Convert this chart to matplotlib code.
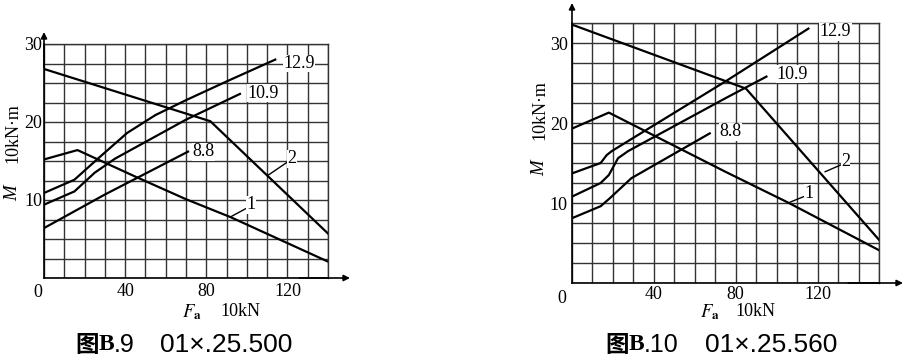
import matplotlib
matplotlib.use('Agg')
import numpy as np
import matplotlib.pyplot as plt

plt.rcParams['font.family'] = ['Liberation Serif', 'DejaVu Serif']
plt.rcParams['mathtext.fontset'] = 'stix'

W, H = 906, 361  # output size in pixels

# ---- Figure B.9 : 01x.25.500 ----
b9_x_2 = [0, 82, 140]
b9_y_2 = [26.8, 20.1, 5.7]
b9_x_1 = [0, 16.5, 45, 70, 92, 140]
b9_y_1 = [15.2, 16.4, 13.0, 10.1, 7.8, 2.1]
b9_x_129 = [0, 15, 27, 41, 55, 70, 90, 114]
b9_y_129 = [10.9, 12.6, 15.4, 18.6, 20.9, 22.8, 25.2, 28.0]
b9_x_109 = [0, 15, 25, 35, 70, 96.6]
b9_y_109 = [9.4, 11.1, 13.5, 15.3, 20.3, 23.6]
b9_x_88 = [0, 30, 71]
b9_y_88 = [6.4, 10.7, 16.2]

# ---- Figure B.10 : 01x.25.560 ----
b10_x_2 = [0, 85, 150]
b10_y_2 = [32.3, 24.3, 5.4]
b10_x_1 = [0, 18, 75, 106, 150]
b10_y_1 = [19.3, 21.3, 13.9, 10.0, 4.1]
b10_x_129 = [0, 14, 17, 19.5, 75, 115.5]
b10_y_129 = [13.7, 15.0, 16.0, 16.5, 25.2, 31.8]
b10_x_109 = [0, 14, 18, 22.5, 27.5, 75, 95]
b10_y_109 = [10.8, 12.5, 13.5, 15.6, 16.5, 23.1, 25.8]
b10_x_88 = [0, 14, 18.5, 29, 67.3]
b10_y_88 = [8.1, 9.6, 10.6, 13.1, 18.7]

x_tick_labels = [40, 80, 120]
y_tick_labels = [10, 20, 30]

GRID = '#333333'
LABEL_BOX = dict(facecolor='white', edgecolor='none', pad=0.3)
FS = 13


def px(x, y):
    """pixel position -> figure fraction"""
    return x / W, 1 - y / H


def setup_axes(ax, xmax, ymax, ext_x, ext_y, ypad, xpad, zero_off):
    ax.set_xlim(0, xmax)
    ax.set_ylim(0, ymax)
    ax.set_xticks(np.arange(0, xmax + 1, 10), minor=True)
    ax.set_yticks(np.arange(0, ymax + 0.1, 2.5), minor=True)
    ax.set_xticks(x_tick_labels)
    ax.set_yticks(y_tick_labels)
    ax.set_axisbelow(True)
    ax.grid(which='both', color=GRID, lw=1.0)
    ax.tick_params(which='both', length=0, labelsize=FS)
    ax.tick_params(axis='y', pad=ypad)
    ax.tick_params(axis='x', pad=xpad)
    for s in ax.spines.values():
        s.set_color(GRID)
        s.set_linewidth(1.0)
    for s in ('left', 'bottom'):
        ax.spines[s].set_color('black')
        ax.spines[s].set_linewidth(1.2)
    # axis arrows
    arrow = dict(arrowstyle='-|>', color='black', lw=1.2, mutation_scale=9,
                 shrinkA=0, shrinkB=0)
    ax.annotate('', xy=(0, 1 + ext_y), xytext=(0, 0.9), xycoords='axes fraction',
                arrowprops=arrow, annotation_clip=False)
    ax.annotate('', xy=(1 + ext_x, 0), xytext=(0.9, 0), xycoords='axes fraction',
                arrowprops=arrow, annotation_clip=False)
    # the "0" at the corner
    ax.annotate('0', xy=(0, 0), xytext=zero_off, textcoords='offset points',
                ha='right', va='top', fontsize=FS, annotation_clip=False)


def leader(ax, text, xy, xytext):
    ax.annotate(text, xy=xy, xytext=xytext, fontsize=FS, ha='left', va='center',
                bbox=LABEL_BOX,
                arrowprops=dict(arrowstyle='-', color='black', lw=1.0,
                                shrinkA=0, shrinkB=0, relpos=(0, 0.3)))


fig = plt.figure(figsize=(W / 100, H / 100), dpi=100)

# ---------------- left chart ----------------
ax1 = fig.add_axes([44 / W, 1 - 278 / H, 284 / W, 234 / H])
setup_axes(ax1, 140, 30, 22 / 284, 12 / 234, 1.5, 3.5, (-1.5, -4))
for xs, ys in [(b9_x_2, b9_y_2), (b9_x_1, b9_y_1), (b9_x_129, b9_y_129),
               (b9_x_109, b9_y_109), (b9_x_88, b9_y_88)]:
    ax1.plot(xs, ys, color='black', lw=1.6, solid_joinstyle='round')
ax1.text(125.8, 27.5, '12.9', fontsize=FS, ha='center', va='center', bbox=LABEL_BOX)
ax1.text(108.1, 23.7, '10.9', fontsize=FS, ha='center', va='center', bbox=LABEL_BOX)
ax1.text(78.5, 16.2, '8.8', fontsize=FS, ha='center', va='center', bbox=LABEL_BOX)
leader(ax1, '2', (110.6, 13.2), (120, 15.3))
leader(ax1, '1', (91.7, 7.8), (100, 9.4))

# ---------------- right chart ----------------
ax2 = fig.add_axes([572 / W, 1 - 283 / H, 307 / W, 260 / H])
setup_axes(ax2, 150, 32.5, 24 / 307, 20 / 260, 3, 2.5, (-4, -5))
for xs, ys in [(b10_x_2, b10_y_2), (b10_x_1, b10_y_1), (b10_x_129, b10_y_129),
               (b10_x_109, b10_y_109), (b10_x_88, b10_y_88)]:
    ax2.plot(xs, ys, color='black', lw=1.6, solid_joinstyle='round')
ax2.text(128.8, 31.4, '12.9', fontsize=FS, ha='center', va='center', bbox=LABEL_BOX)
ax2.text(107.7, 26.1, '10.9', fontsize=FS, ha='center', va='center', bbox=LABEL_BOX)
ax2.text(77.6, 18.9, '8.8', fontsize=FS, ha='center', va='center', bbox=LABEL_BOX)
leader(ax2, '2', (123.6, 13.9), (131.5, 15.2))
leader(ax2, '1', (106.5, 10.1), (113.5, 11.25))

# ---------------- axis titles ----------------
for mx, my, ty in [(12.5, 193, 133), (540, 168, 110)]:
    fig.text(*px(mx, my), 'M', style='italic', fontsize=13.5, rotation=90,
             ha='center', va='center')
    fig.text(*px(mx, ty), '10kN·m', fontsize=13, rotation=90,
             ha='center', va='center')

for fx, kx in [(182, 220), (700, 735)]:
    fig.text(*px(fx, 312), r'$F_{\mathbf{a}}$', fontsize=13.5, ha='left', va='center')
    fig.text(*px(kx, 311), '10kN', fontsize=13, ha='left', va='center')

# ---------------- captions ----------------
for x0, num, x1, code in [(75, '.9', 160, '01×.25.500'), (605, '.10', 705, '01×.25.560')]:
    fig.text(*px(x0, 345), '图', family=['Noto Sans CJK SC', 'DejaVu Sans'],
             fontweight='bold', fontsize=17, ha='left', va='center')
    fig.text(*px(x0 + 24, 345), 'B', family=['Liberation Serif'], fontweight='bold',
             fontsize=17, ha='left', va='center')
    fig.text(*px(x0 + 39, 345), num, family=['Liberation Sans'], fontsize=18,
             ha='left', va='center')
    fig.text(*px(x1, 345), code, family=['Liberation Sans'], fontsize=19,
             ha='left', va='center')

fig.savefig('out.png', dpi=100)
